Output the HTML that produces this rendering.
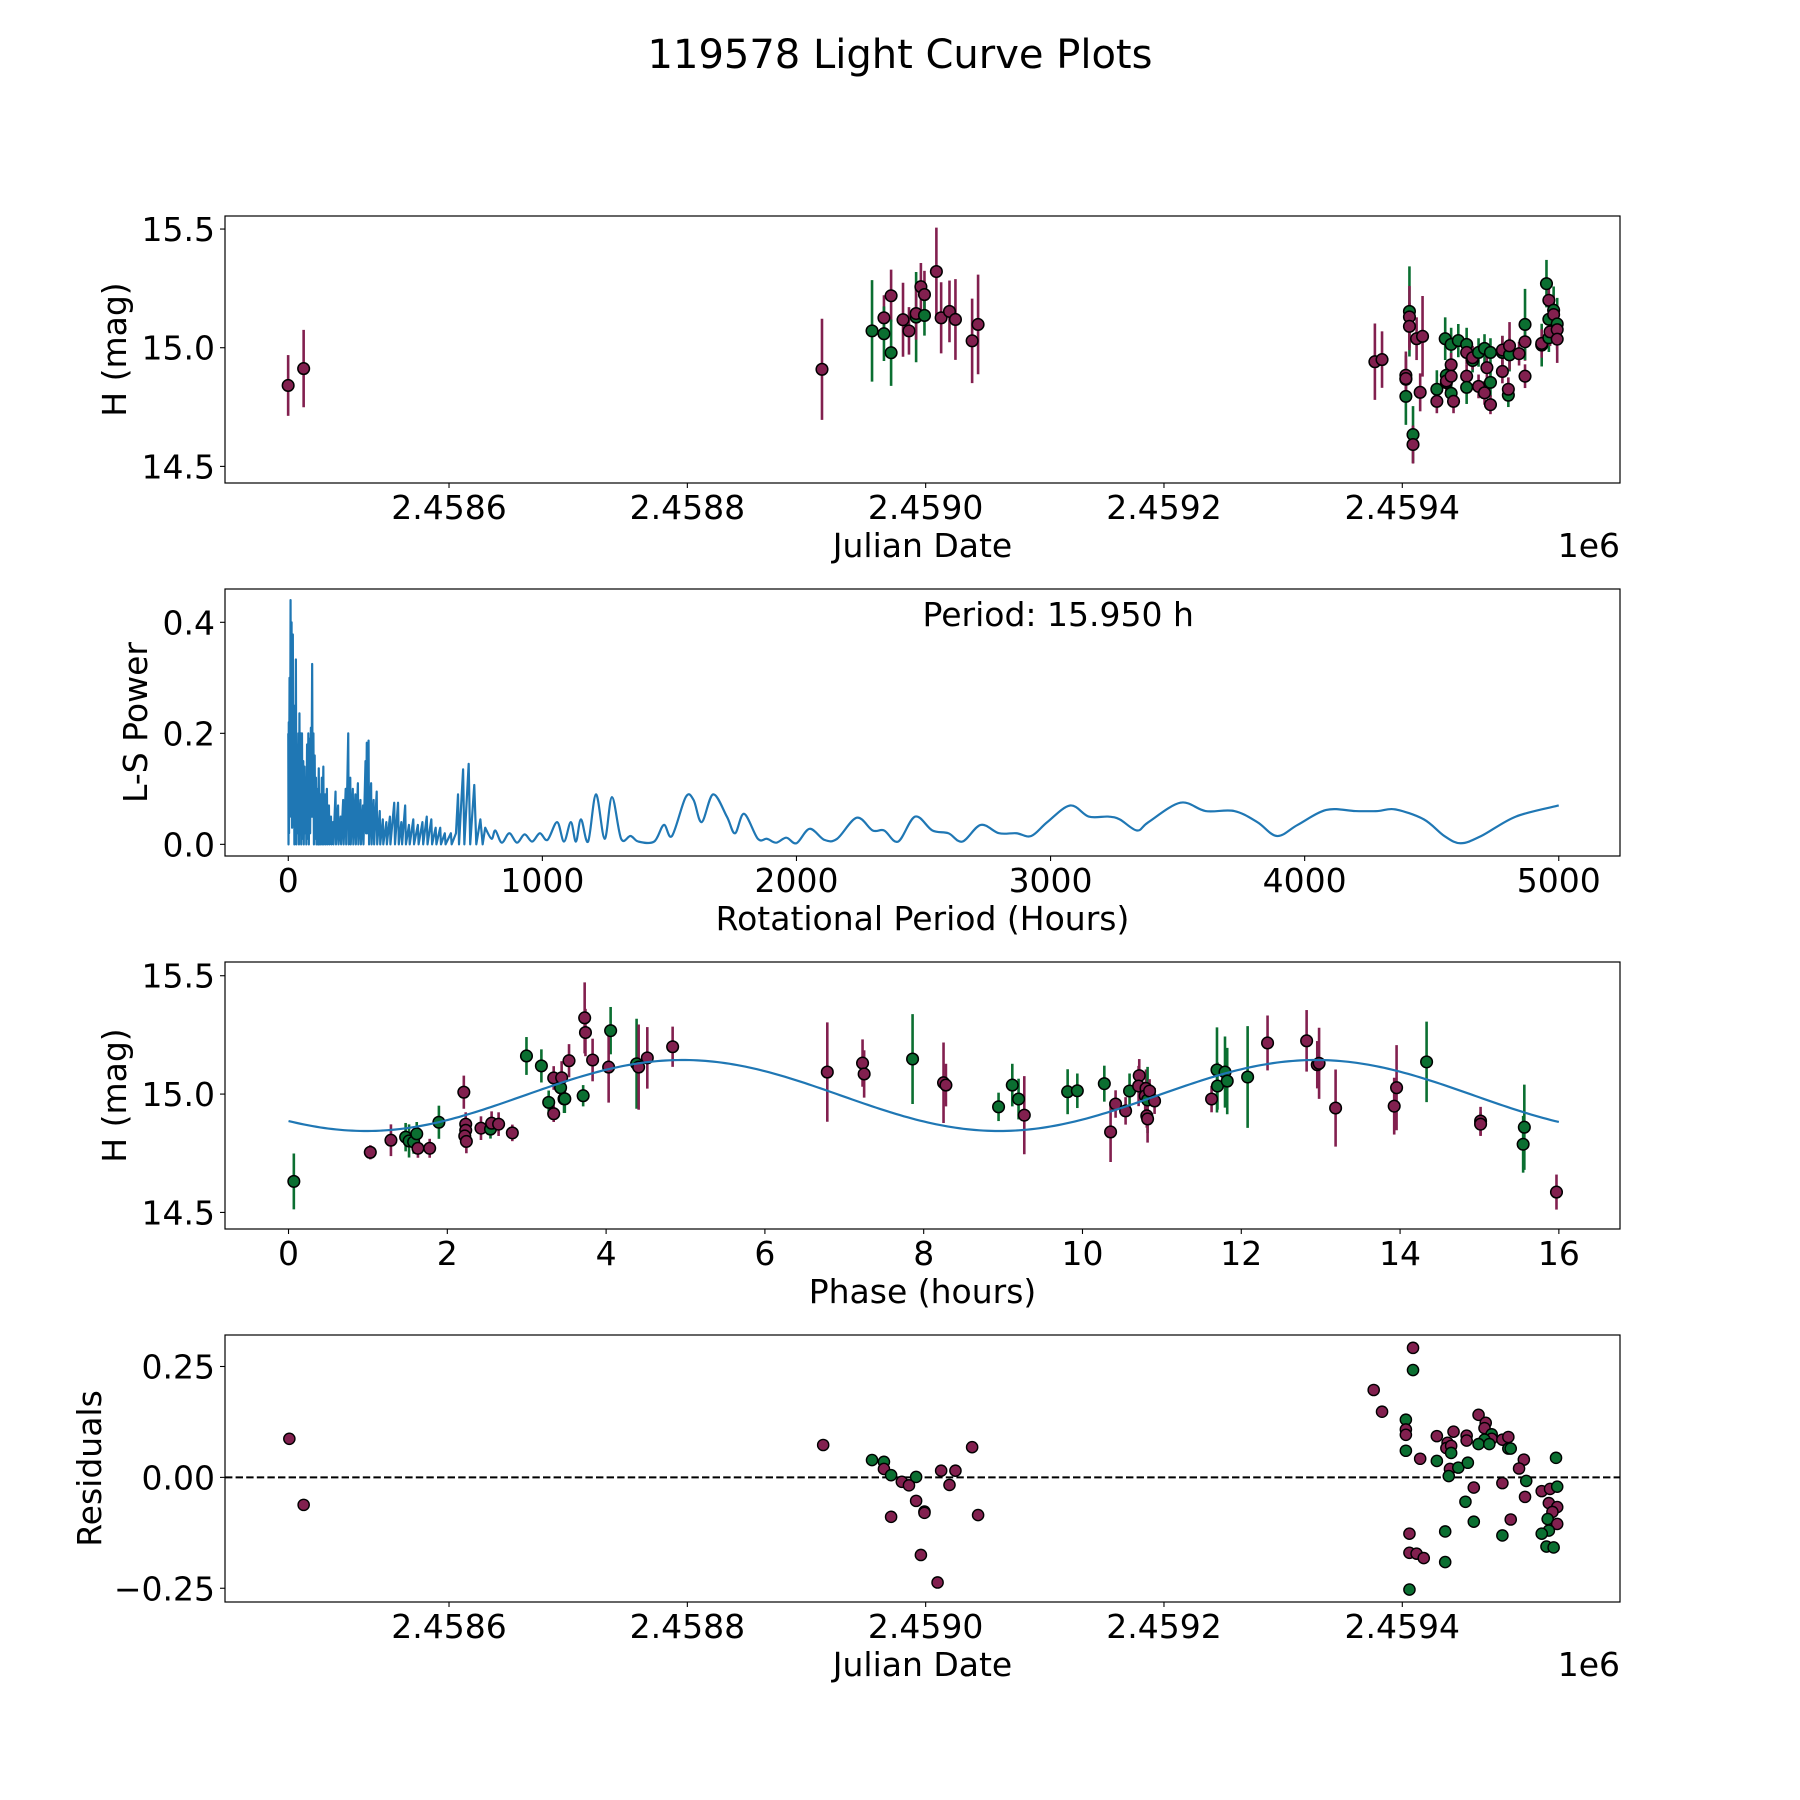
<!DOCTYPE html>
<html><head><meta charset="utf-8"><title>119578 Light Curve Plots</title>
<style>
html,body{margin:0;padding:0;background:#fff;}
svg{display:block;font-family:"DejaVu Sans","Liberation Sans",sans-serif;}
</style></head>
<body>
<svg id="fig" width="1800" height="1800" viewBox="0 0 1800 1800" xmlns="http://www.w3.org/2000/svg">
<rect x="0" y="0" width="1800" height="1800" fill="#fff"/>
<text x="900" y="68" font-size="40" text-anchor="middle">119578 Light Curve Plots</text>
</svg>
<script>
// ---------- Panel 1: raw light curve ----------
const lcJD = [2458465,2458478,
2458913,2458955,2458965,2458965,2458971,2458971,2458981,2458986,2458992,2458992,2458996,2458999,2458999,2459009,2459013,2459020,2459025,2459039,2459044,
2459377,2459383,2459403,2459403,2459403,2459403,2459406,2459406,2459406,2459409,2459409,2459412,2459417,2459415,2459429,2459429,2459436,2459441,2459441,2459437,2459437,2459437,2459441,2459441,2459443,2459447,2459454,2459454,2459454,2459454,2459459,2459459,2459464,2459464,2459469,2459469,2459471,2459474,2459474,2459474,2459484,2459484,2459484,2459489,2459489,2459490,2459490,2459498,2459503,2459503,2459503,2459517,2459517,2459521,2459523,2459523,2459523,2459524,2459527,2459527,2459530,2459530,2459530];
const lcMag = [14.841,14.912,
14.909,15.071,15.126,15.059,15.219,14.979,15.118,15.071,15.129,15.144,15.257,15.224,15.136,15.321,15.126,15.153,15.119,15.029,15.098,
14.941,14.95,14.795,14.867,14.884,14.87,15.153,15.13,15.09,14.634,14.592,15.038,15.048,14.812,14.825,14.774,15.038,15.014,14.928,14.884,14.853,14.86,14.88,14.808,14.774,15.03,15.014,14.98,14.88,14.833,14.946,14.958,14.98,14.837,14.997,14.81,14.916,14.98,14.854,14.76,14.98,14.99,14.9,14.8,14.825,14.97,15.008,14.975,14.88,15.025,15.098,15.011,15.018,15.27,15.2,15.12,15.042,15.067,15.158,15.14,15.1,15.076,15.036];
const lcErr = [0.128,0.163,
0.213,0.214,0.095,0.115,0.11,0.14,0.156,0.1,0.19,0.11,0.1,0.1,0.085,0.185,0.15,0.13,0.17,0.178,0.21,
0.161,0.119,0.12,0.1,0.1,0.08,0.19,0.13,0.1,0.12,0.08,0.09,0.17,0.08,0.08,0.05,0.09,0.07,0.05,0.05,0.05,0.05,0.05,0.05,0.05,0.07,0.07,0.05,0.05,0.07,0.05,0.05,0.06,0.05,0.06,0.05,0.05,0.06,0.06,0.04,0.07,0.06,0.05,0.05,0.05,0.07,0.1,0.05,0.05,0.08,0.15,0.09,0.06,0.1,0.08,0.07,0.06,0.06,0.1,0.08,0.11,0.08,0.1];
const lcBand = ['m','m',
'm','g','m','g','m','g','m','m','g','m','m','m','g','m','m','m','m','m','m',
'm','m','g','g','m','m','g','m','m','g','m','m','m','m','g','m','g','g','m','g','m','m','m','g','m','g','g','m','m','g','g','m','g','m','g','m','m','g','g','m','g','m','m','g','m','g','m','m','m','m','g','g','m','g','m','g','g','m','g','m','g','m','m'];

// ---------- Panel 2: periodogram (period in hours, power) ----------
const lsDense = [[0,0.2],[1,0],[2,0.22],[3,0.02],[5,0.3],[7,0.05],[9,0.44],[11,0.1],[13,0.4],[15,0.03],[18,0.378],[20,0.05],[22,0.25],[24,0],[26,0.2],[28,0.02],[30,0.333],[32,0],[35,0.18],[37,0.02],[40,0.2],[42,0],[44,0.236],[46,0.02],[49,0.2],[51,0],[54,0.2],[56,0.01],[59,0.15],[61,0],[64,0.14],[66,0.02],[69,0.12],[71,0],[74,0.18],[76,0.01],[79,0.2],[81,0],[84,0.19],[86,0.02],[89,0.21],[91,0.05],[94,0.325],[96,0.05],[99,0.2],[101,0],[104,0.16],[106,0.01],[109,0.12],[111,0],[115,0.1],[117,0],[120,0.137],[122,0],[126,0.09],[128,0],[132,0.12],[134,0],[138,0.14],[140,0],[145,0.09],[147,0],[152,0.1],[154,0],[160,0.07],[162,0],[168,0.05],[170,0],[176,0.04],[178,0],[186,0.095],[188,0],[196,0.07],[198,0],[206,0.05],[208,0],[216,0.08],[218,0],[226,0.1],[228,0],[236,0.2],[238,0],[244,0.12],[246,0],[254,0.1],[256,0],[264,0.09],[266,0],[274,0.11],[276,0],[284,0.08],[286,0],[294,0.07],[296,0],[304,0.15],[306,0.02],[309,0.183],[311,0.02],[316,0.187],[318,0],[326,0.11],[328,0],[336,0.08],[338,0],[348,0.095],[350,0],[360,0.06],[362,0],[372,0.045],[374,0],[386,0.04],[388,0],[400,0.05],[402,0],[417,0.075],[420,0],[432,0.075],[435,0],[445,0.04],[448,0],[460,0.07],[463,0],[475,0.035],[478,0],[492,0.045],[495,0],[510,0.035],[513,0],[528,0.04],[531,0],[545,0.05],[548,0],[563,0.045],[566,0],[580,0.03],[583,0],[598,0.03],[601,0],[616,0.02],[619,0],[640,0.02],[643,0],[660,0.02],[668,0.09],[672,0],[688,0.135],[693,0],[710,0.145],[716,0],[732,0.107],[740,0],[756,0.045],[765,0],[775,0.03]];
const lsSmooth = [[775,0.03],[800,0.01],[815,0.025],[840,0.003],[870,0.02],[900,0.003],[930,0.018],[960,0.005],[990,0.02],[1020,0.008],[1058,0.04],[1085,0.005],[1112,0.04],[1132,0.005],[1152,0.045],[1180,0.005],[1211,0.09],[1245,0.01],[1274,0.085],[1310,0.01],[1347,0.015],[1378,0.005],[1440,0.005],[1478,0.035],[1510,0.015],[1564,0.085],[1595,0.08],[1627,0.04],[1672,0.09],[1726,0.05],[1758,0.02],[1794,0.055],[1848,0.01],[1884,0.01],[1920,0.003],[1960,0.012],[2000,0.002],[2052,0.028],[2110,0.008],[2160,0.01],[2237,0.048],[2300,0.025],[2345,0.025],[2400,0.005],[2467,0.05],[2535,0.025],[2598,0.02],[2653,0.005],[2725,0.035],[2797,0.02],[2865,0.02],[2924,0.015],[2987,0.04],[3077,0.07],[3150,0.05],[3226,0.05],[3272,0.045],[3340,0.025],[3385,0.04],[3511,0.075],[3610,0.06],[3723,0.06],[3814,0.04],[3891,0.015],[3972,0.035],[4085,0.062],[4200,0.06],[4288,0.06],[4356,0.063],[4469,0.045],[4550,0.015],[4614,0.002],[4695,0.015],[4831,0.05],[5000,0.07]];
const bestPeriodLabel = "Period: 15.950 h";

// ---------- Panel 3: phased light curve ----------
const phHours = [0.067,1.03,1.29,1.475,1.518,1.576,1.615,1.63,1.778,1.894,2.208,2.232,2.232,2.22,2.24,2.424,2.544,2.558,2.646,2.819,2.997,3.185,3.277,3.34,3.34,3.427,3.44,3.47,3.48,3.533,3.711,3.73,3.74,3.83,
4.057,4.032,4.384,4.41,4.519,4.838,6.786,7.23,7.25,7.86,8.25,8.28,8.943,9.116,9.195,9.267,9.813,9.935,
10.275,10.354,10.417,10.543,10.593,10.715,10.707,10.8,10.79,10.82,10.845,10.908,10.81,10.82,11.626,11.694,11.7,11.795,11.823,12.08,12.331,12.823,12.957,12.98,13.188,13.926,13.956,14.334,15.014,15.014,15.565,15.55,15.97];
const phMag = [14.631,14.754,14.805,14.818,14.802,14.798,14.832,14.771,14.771,14.881,15.008,14.873,14.847,14.823,14.8,14.856,14.852,14.877,14.873,14.836,15.161,15.119,14.965,15.068,14.917,15.027,15.069,14.98,14.98,15.141,14.993,15.322,15.26,15.144,
15.268,15.114,15.128,15.114,15.153,15.2,15.093,15.131,15.085,15.148,15.048,15.038,14.946,15.038,14.979,14.911,15.01,15.014,
15.044,14.84,14.958,14.929,15.013,15.078,15.034,15.024,14.992,14.975,15.013,14.971,14.908,14.895,14.979,15.102,15.034,15.093,15.055,15.072,15.216,15.225,15.124,15.13,14.941,14.949,15.027,15.136,14.886,14.873,14.86,14.788,14.586];
const phErr = [0.118,0.03,0.067,0.06,0.07,0.05,0.05,0.04,0.04,0.07,0.07,0.05,0.05,0.05,0.05,0.05,0.04,0.05,0.05,0.035,0.08,0.07,0.05,0.05,0.035,0.06,0.07,0.06,0.06,0.07,0.045,0.15,0.1,0.09,
0.1,0.15,0.19,0.18,0.13,0.085,0.21,0.1,0.1,0.19,0.17,0.09,0.06,0.09,0.086,0.165,0.095,0.073,
0.076,0.127,0.058,0.058,0.074,0.07,0.085,0.08,0.06,0.14,0.05,0.055,0.05,0.1,0.056,0.18,0.1,0.15,0.14,0.215,0.116,0.13,0.1,0.15,0.163,0.12,0.18,0.17,0.06,0.05,0.18,0.12,0.074];
const phBand = ['g','m','m','g','g','g','g','m','m','g','m','m','m','m','m','m','g','m','m','m','g','g','g','m','m','g','m','g','g','m','g','m','m','m',
'g','m','g','m','m','m','m','m','m','g','m','m','g','g','g','m','g','g',
'g','m','m','m','g','m','m','m','m','g','m','m','m','m','m','g','g','g','g','g','m','m','m','m','m','m','m','g','m','m','g','g','m'];
const fitMean = [14.994];
const fitAmp = [0.15];
const fitPhase0 = [2.97];
const fitHalfPeriod = [7.975];

// ---------- Panel 4: residuals ----------
const resJD = [2458466,2458478,
2458914,2458955,2458965,2458965,2458971,2458971,2458980,2458986,2458992,2458992,2458999,2458999,2458996,2459010,2459013,2459020,2459025,2459039,2459044,
2459409,2459409,2459376,2459383,2459403,2459403,2459403,2459403,2459415,2459429,2459429,2459443,2459438,2459437,2459441,2459441,2459440,2459439,2459447,2459455,2459454,2459454,2459464,2459470,2459469,2459475,2459475,2459469,2459464,2459473,2459484,2459489,2459489,2459491,2459502,2459498,2459529,2459504,2459484,2459460,2459503,2459453,2459460,2459491,2459436,2459406,2459406,2459412,2459418,2459436,2459406,2459484,2459517,2459524,2459530,2459523,2459530,2459526,2459522,2459530,2459523,2459517,2459521,2459527];
const resVal = [0.087,-0.062,
0.073,0.039,0.035,0.019,0.005,-0.089,-0.01,-0.018,0.001,-0.053,-0.077,-0.08,-0.175,-0.237,0.015,-0.017,0.015,0.068,-0.085,
0.292,0.242,0.197,0.148,0.13,0.108,0.096,0.06,0.042,0.093,0.037,0.103,0.078,0.066,0.071,0.055,0.019,0.003,0.022,0.033,0.094,0.083,0.141,0.123,0.111,0.097,0.087,0.085,0.075,0.075,0.085,0.091,0.065,0.065,0.04,0.02,0.044,-0.008,-0.013,-0.023,-0.044,-0.055,-0.1,-0.095,-0.122,-0.127,-0.17,-0.172,-0.182,-0.191,-0.253,-0.131,-0.031,-0.026,-0.021,-0.058,-0.067,-0.078,-0.094,-0.105,-0.12,-0.127,-0.156,-0.158];
const resBand = ['m','m',
'm','g','g','m','g','m','m','m','g','m','g','m','m','m','m','m','m','m','m',
'm','g','m','m','g','m','m','g','m','m','g','m','m','m','m','g','m','g','g','g','m','m','m','m','m','g','m','g','g','g','m','m','g','g','m','m','g','g','m','m','m','g','g','m','g','m','m','m','m','g','g','g','m','m','g','m','m','m','g','m','g','g','g','g'];

// ---------- helpers ----------
const NS = "http://www.w3.org/2000/svg";
const svg = document.getElementById('fig');
const COL = {m:'#82204f', g:'#0b6f31'};
function mk(tag, attrs, parent){
  const e = document.createElementNS(NS, tag);
  for (const k in attrs) e.setAttribute(k, attrs[k]);
  (parent||svg).appendChild(e);
  return e;
}
function lin(d0,d1,r0,r1){ return v => r0 + (v-d0)/(d1-d0)*(r1-r0); }

const L = 225, R = 1620, PH = 267;
const TOPS = [216, 589, 962, 1335];

function axesFrame(i, name){
  const t = TOPS[i];
  const f = mk('rect', {x:L, y:t, width:R-L, height:PH, fill:'none', stroke:'#000', 'stroke-width':1.2});
  
  
}
function clipFor(i){
  const c = mk('clipPath', {id:'clip'+i});
  mk('rect', {x:L, y:TOPS[i], width:R-L, height:PH}, c);
  const g = mk('g', {'clip-path':'url(#clip'+i+')'});
  
  
  return g;
}
function xTicks(i, vals, labels, sx){
  const b = TOPS[i] + PH;
  vals.forEach((v, k) => {
    const x = sx(v);
    const tk = mk('line', {x1:x, x2:x, y1:b, y2:b+5, stroke:'#000', 'stroke-width':1.1});
    
    
    const tx = mk('text', {x:x, y:b+36, 'font-size':33, 'text-anchor':'middle'});
    tx.textContent = labels[k];
    
    
  });
}
function yTicks(vals, labels, sy){
  vals.forEach((v, k) => {
    const y = sy(v);
    const tk = mk('line', {x1:L-5, x2:L, y1:y, y2:y, stroke:'#000', 'stroke-width':1.1});
    
    
    const tx = mk('text', {x:L-10, y:y+12, 'font-size':33, 'text-anchor':'end'});
    tx.textContent = labels[k];
    
    
  });
}
function xLabel(i, txt, name){
  const t = mk('text', {x:(L+R)/2, y:TOPS[i]+PH+74, 'font-size':33, 'text-anchor':'middle'});
  t.textContent = txt;
  
  
}
function yLabel(i, txt, cx, name){
  const cy = TOPS[i] + PH/2;
  const t = mk('text', {x:cx+11, y:cy, 'font-size':33, 'text-anchor':'middle', transform:'rotate(-90 '+(cx+11)+' '+cy+')'});
  t.textContent = txt;
  
  
}
function offsetText(i){
  const t = mk('text', {x:R, y:TOPS[i]+PH+74, 'font-size':33, 'text-anchor':'end'});
  t.textContent = '1e6';
  
  
}
function errPoints(g, xs, ys, es, bands, sx, sy){
  xs.forEach((x, k) => {
    const px = sx(x);
    const ln = mk('line', {x1:px, x2:px, y1:sy(ys[k]+es[k]), y2:sy(ys[k]-es[k]), stroke:COL[bands[k]], 'stroke-width':2.6}, g);
    
    
  });
  xs.forEach((x, k) => {
    const c = mk('circle', {cx:sx(x), cy:sy(ys[k]), r:5.8, fill:COL[bands[k]], stroke:'#000', 'stroke-width':1.5}, g);
    
    
  });
}

// ---- Panel 1 ----
const x1 = lin(2458412, 2459582.7, L, R);
const y1 = lin(14.43, 15.555, TOPS[0]+PH, TOPS[0]);
const g1 = clipFor(0);
errPoints(g1, lcJD, lcMag, lcErr, lcBand, x1, y1);
axesFrame(0, 'light-curve-axes');
xTicks(0, [2458600,2458800,2459000,2459200,2459400], ['2.4586','2.4588','2.4590','2.4592','2.4594'], x1);
yTicks([14.5,15.0,15.5], ['14.5','15.0','15.5'], y1);
xLabel(0, 'Julian Date', 'x-axis-title-julian-date');
offsetText(0);
yLabel(0, 'H (mag)', 115, 'y-axis-title-magnitude');

// ---- Panel 2 ----
const x2 = lin(-249, 5241, L, R);
const y2 = lin(-0.021, 0.46, TOPS[1]+PH, TOPS[1]);
const g2 = clipFor(1);
let d = '';
lsDense.forEach((pt, k) => { d += (k ? 'L' : 'M') + x2(pt[0]).toFixed(2) + ' ' + y2(pt[1]).toFixed(2); });
// smooth part: Catmull-Rom through the read points
const sp = lsSmooth.map(pt => [x2(pt[0]), y2(pt[1])]);
for (let k = 0; k < sp.length - 1; k++){
  const p0 = sp[Math.max(0,k-1)], p1 = sp[k], p2 = sp[k+1], p3 = sp[Math.min(sp.length-1,k+2)];
  const c1x = p1[0] + (p2[0]-p0[0])/6, c1y = p1[1] + (p2[1]-p0[1])/6;
  const c2x = p2[0] - (p3[0]-p1[0])/6, c2y = p2[1] - (p3[1]-p1[1])/6;
  d += 'C' + c1x.toFixed(2)+' '+c1y.toFixed(2)+' '+c2x.toFixed(2)+' '+c2y.toFixed(2)+' '+p2[0].toFixed(2)+' '+p2[1].toFixed(2);
}
const lsLine = mk('path', {d:d, fill:'none', stroke:'#1f77b4', 'stroke-width':2.2, 'stroke-linejoin':'round'}, g2);


axesFrame(1, 'periodogram-axes');
xTicks(1, [0,1000,2000,3000,4000,5000], ['0','1000','2000','3000','4000','5000'], x2);
yTicks([0,0.2,0.4], ['0.0','0.2','0.4'], y2);
xLabel(1, 'Rotational Period (Hours)', 'x-axis-title-period');
yLabel(1, 'L-S Power', 136, 'y-axis-title-power');
const pt = mk('text', {x:(L+R)/2, y:TOPS[1]+37, 'font-size':33, 'text-anchor':'start'});
pt.textContent = bestPeriodLabel;



// ---- Panel 3 ----
const x3 = lin(-0.8, 16.77, L, R);
const y3 = lin(14.43, 15.558, TOPS[2]+PH, TOPS[2]);
const g3 = clipFor(2);
errPoints(g3, phHours, phMag, phErr, phBand, x3, y3);
let d3 = '';
for (let k = 0; k <= 320; k++){
  const p = 16 * k / 320;
  const m = fitMean[0] + fitAmp[0] * Math.sin(2*Math.PI*(p - fitPhase0[0]) / fitHalfPeriod[0]);
  d3 += (k ? 'L' : 'M') + x3(p).toFixed(2) + ' ' + y3(m).toFixed(2);
}
const fit = mk('path', {d:d3, fill:'none', stroke:'#1f77b4', 'stroke-width':2.2}, g3);


axesFrame(2, 'phase-axes');
xTicks(2, [0,2,4,6,8,10,12,14,16], ['0','2','4','6','8','10','12','14','16'], x3);
yTicks([14.5,15.0,15.5], ['14.5','15.0','15.5'], y3);
xLabel(2, 'Phase (hours)', 'x-axis-title-phase');
yLabel(2, 'H (mag)', 115, 'y-axis-title-phase-magnitude');

// ---- Panel 4 ----
const x4 = x1;
const y4 = lin(-0.281, 0.321, TOPS[3]+PH, TOPS[3]);
const g4 = clipFor(3);
const zl = mk('line', {x1:L, x2:R, y1:y4(0), y2:y4(0), stroke:'#000', 'stroke-width':2, 'stroke-dasharray':'7.4,3.2'}, g4);


resJD.forEach((j, k) => {
  const c = mk('circle', {cx:x4(j), cy:y4(resVal[k]), r:5.6, fill:COL[resBand[k]], stroke:'#000', 'stroke-width':1.4}, g4);
  
  
});
axesFrame(3, 'residuals-axes');
xTicks(3, [2458600,2458800,2459000,2459200,2459400], ['2.4586','2.4588','2.4590','2.4592','2.4594'], x4);
yTicks([-0.25,0,0.25], ['\u22120.25','0.00','0.25'], y4);
xLabel(3, 'Julian Date', 'x-axis-title-residual-date');
offsetText(3);
yLabel(3, 'Residuals', 90, 'y-axis-title-residuals');
</script>
</body></html>
